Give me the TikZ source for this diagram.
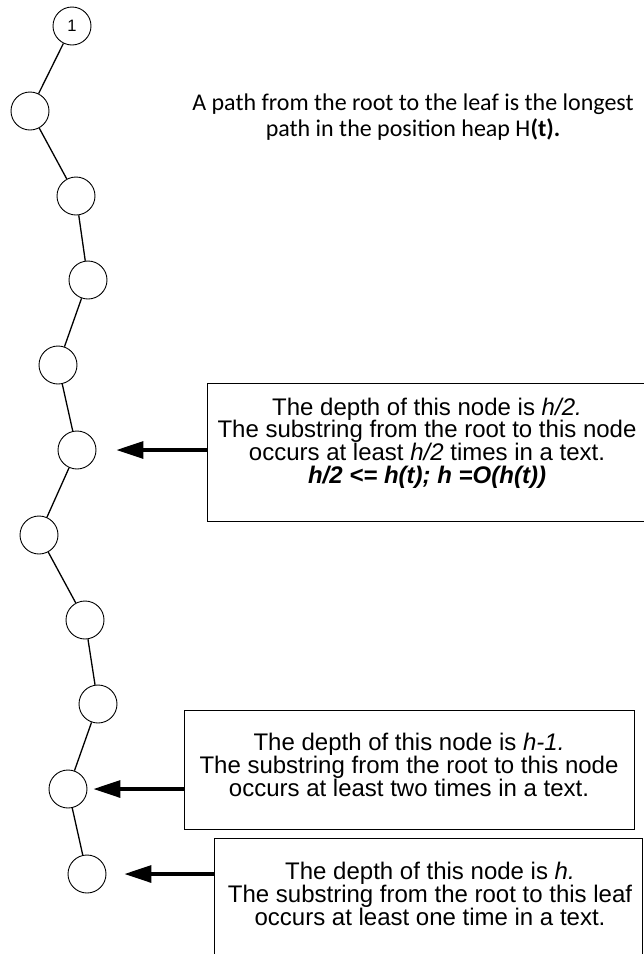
\documentclass[tikz,border=0pt]{standalone}
\usepackage{fontspec}
\newfontfamily\arialf{Liberation Sans}
\newfontfamily\calibrif{Carlito}
\usetikzlibrary{arrows.meta}
\newcommand\tightlines{\lineskiplimit=-100pt\relax}
\begin{document}
\begin{tikzpicture}[x=1pt,y=-1pt,
  vertex/.style={circle, draw, line width=0.9pt, minimum size=38pt, inner sep=0pt,
    font=\arialf\fontsize{16.5}{16.5}\selectfont},
  edge/.style={line width=1.3pt},
  infobox/.style={draw, line width=1.2pt, fill=white, inner sep=0pt, anchor=north west},
  infotext/.style={font=\arialf\fontsize{24}{22.7}\selectfont\tightlines,
    align=center, inner sep=0pt, anchor=north},
  pointer/.style={line width=3.3pt, -{Triangle[length=27pt,width=17pt]}},
]
\clip (0,0) rectangle (644,954);
\fill[white] (0,0) rectangle (644,954);

% the chain of vertices from the root down to the leaf
\node[vertex] (c1)  at (72,26)  {1};
\node[vertex] (c2)  at (30,111) {};
\node[vertex] (c3)  at (76,196) {};
\node[vertex] (c4)  at (88,280) {};
\node[vertex] (c5)  at (58,365) {};
\node[vertex] (c6)  at (77,450) {};
\node[vertex] (c7)  at (39,535) {};
\node[vertex] (c8)  at (85,620) {};
\node[vertex] (c9)  at (98,704) {};
\node[vertex] (c10) at (68,789) {};
\node[vertex] (c11) at (87,874) {};

\foreach \a/\b in {c1/c2,c2/c3,c3/c4,c4/c5,c5/c6,c6/c7,c7/c8,c8/c9,c9/c10,c10/c11}
  \draw[edge] (\a) -- (\b);

% heading
\node[font=\calibrif\fontsize{24}{26}\selectfont, align=center, inner sep=0pt, anchor=north]
  (title) at (413,93.5)
  {A path from the root to the leaf is the longest\\
   path in the position heap H\textbf{(t).}};

% explanation boxes
\node[infobox, minimum width=447pt, minimum height=138pt] (b1) at (207,383) {};
\node[infotext] (t1) at (427,397.5)
  {The depth of this node is \textit{h/2.}\\
   The substring from the root to this node\\
   occurs at least \textit{h/2} times in a text.\\
   \textbf{\textit{h/2 <= h(t); h =O(h(t))}}};

\node[infobox, minimum width=450pt, minimum height=119pt] (b2) at (184,710) {};
\node[infotext] (t2) at (409,733)
  {The depth of this node is \textit{h-1.}\\
   The substring from the root to this node\\
   occurs at least two times in a text.};

\node[infobox, minimum width=428pt, minimum height=140pt] (b3) at (214,838) {};
\node[infotext] (t3) at (430,862)
  {The depth of this node is \textit{h.}\\
   The substring from the root to this leaf\\
   occurs at least one time in a text.};

% pointers from the boxes to their vertices
\draw[pointer] (b1.west |- c6)  -- ([xshift=20pt]c6.east);
\draw[pointer] (b2.west |- c10) -- ([xshift=6pt]c10.east);
\draw[pointer] (b3.west |- c11) -- ([xshift=18pt]c11.east);
\end{tikzpicture}
\end{document}
